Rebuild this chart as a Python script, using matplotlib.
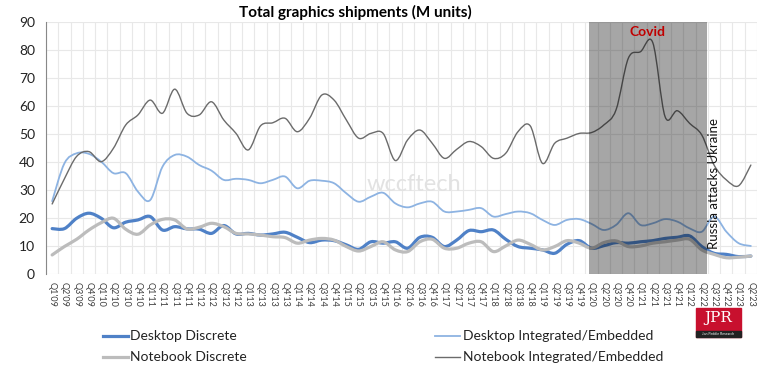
import matplotlib.pyplot as plt
from matplotlib.path import Path
from matplotlib.patches import PathPatch, Rectangle
from matplotlib.lines import Line2D

plt.rcParams['font.family'] = ['Lato', 'DejaVu Sans']

quarters = [f"Q{q}'{y:02d}" for y in range(9, 24) for q in range(1, 5)][:58]

desktop_discrete = [16.2, 16.2, 19.9, 21.7, 19.9, 16.5, 18.5, 19.3, 20.5, 15.7,
                    16.9, 16.1, 16.0, 14.5, 17.3, 14.3, 14.5, 13.9, 14.3, 14.9,
                    13.1, 11.2, 12.1, 11.9, 10.4, 8.8, 11.5, 11.0, 11.5, 9.2,
                    13.1, 13.1, 9.8, 12.1, 15.5, 15.1, 15.7, 12.4, 9.8, 9.2,
                    8.6, 7.4, 10.6, 11.9, 9.2, 10.1, 11.2, 11.0, 11.5, 11.9,
                    12.7, 13.1, 13.6, 9.8, 7.4, 7.0, 6.2, 6.4]
notebook_discrete = [6.8, 9.8, 12.4, 15.7, 18.3, 19.9, 16.0, 14.2, 17.5, 19.5,
                     19.3, 16.1, 16.7, 18.1, 16.9, 14.5, 14.3, 13.9, 13.3, 13.0,
                     11.0, 12.1, 12.7, 12.1, 9.8, 8.2, 9.8, 11.5, 8.6, 8.0,
                     11.5, 12.4, 9.2, 9.2, 11.0, 11.5, 8.0, 10.0, 12.1, 10.6,
                     8.6, 9.8, 11.9, 11.0, 9.2, 11.2, 11.8, 9.8, 10.0, 11.0,
                     11.5, 12.1, 12.4, 8.6, 7.0, 5.8, 6.0, 6.4]
desktop_integrated = [26.0, 39.5, 43.1, 42.9, 40.1, 36.0, 36.0, 29.4, 26.4, 38.3,
                      42.5, 41.9, 38.9, 36.9, 33.6, 34.0, 33.6, 32.4, 33.6, 34.8,
                      30.6, 33.3, 33.3, 32.4, 28.8, 25.8, 27.6, 29.0, 25.2, 23.8,
                      25.2, 25.8, 22.3, 22.3, 22.9, 23.5, 20.5, 21.4, 22.3, 21.7,
                      19.3, 17.5, 19.3, 19.6, 17.9, 15.7, 17.5, 21.7, 17.5, 18.1,
                      19.6, 18.7, 16.3, 15.1, 20.5, 15.1, 11.0, 10.0]
notebook_integrated = [25.0, 34.0, 42.0, 43.7, 40.1, 44.9, 53.2, 56.8, 62.1, 57.4,
                       66.0, 57.4, 56.8, 61.5, 55.0, 50.2, 44.3, 52.9, 54.0, 55.6,
                       50.8, 55.6, 63.9, 62.1, 55.0, 48.5, 50.2, 50.2, 40.5, 47.9,
                       51.4, 46.7, 41.3, 44.5, 47.3, 45.5, 41.3, 43.1, 50.8, 52.9,
                       39.5, 46.7, 48.5, 50.2, 50.5, 53.2, 58.6, 77.0, 79.4, 82.6,
                       56.2, 58.3, 53.8, 49.6, 38.9, 33.6, 31.5, 38.9]

series = [
    ("Desktop Discrete", desktop_discrete, '#4f81c7', 2.3),
    ("Notebook Discrete", notebook_discrete, '#bcbcbc', 2.3),
    ("Desktop Integrated/Embedded", desktop_integrated, '#8db3e2', 1.3),
    ("Notebook Integrated/Embedded", notebook_integrated, '#6b6b6b', 1.0),
]


def smooth_path(y):
    # excel-like smoothed line: bezier through every point
    n = len(y)
    x = list(range(n))
    verts = [(x[0], y[0])]
    codes = [Path.MOVETO]
    for i in range(n - 1):
        a = max(i - 1, 0)
        b = min(i + 2, n - 1)
        c1 = (x[i] + (x[i + 1] - x[a]) / 6, y[i] + (y[i + 1] - y[a]) / 6)
        c2 = (x[i + 1] - (x[b] - x[i]) / 6, y[i + 1] - (y[b] - y[i]) / 6)
        verts += [c1, c2, (x[i + 1], y[i + 1])]
        codes += [Path.CURVE4] * 3
    return Path(verts, codes)


fig = plt.figure(figsize=(7.8, 3.69), dpi=100)
ax = fig.add_axes([0.059, 0.2575, 0.9115, 0.683])

for name, vals, col, lw in series:
    ax.add_patch(PathPatch(smooth_path(vals), facecolor='none', edgecolor=col,
                           lw=lw, capstyle='round', joinstyle='round', zorder=3))

ax.set_xlim(-0.5, len(quarters) - 0.5)
ax.set_ylim(0, 90)
ax.set_yticks(range(0, 91, 10))
ax.set_xticks(range(len(quarters)))
ax.set_xticklabels(quarters, rotation=-90, fontsize=6.5, color='#404040')
ax.tick_params(axis='y', labelsize=10, length=0, pad=8, labelcolor='#222222')
ax.tick_params(axis='x', length=0, pad=6)
ax.set_xticks([i + 0.5 for i in range(-1, len(quarters))], minor=True)
ax.tick_params(axis='x', which='minor', length=0)
ax.grid(axis='x', which='minor', color='#e8e8e8', lw=0.8)
ax.grid(axis='y', color='#e8e8e8', lw=0.8)
ax.set_axisbelow(True)
for s in ['top', 'right', 'bottom']:
    ax.spines[s].set_visible(False)
ax.spines['left'].set_color('#888888')

# covid shade
ax.axvspan(43.8, 53.45, color='black', alpha=0.35, lw=0, zorder=4)
ax.text(48.6, 86.5, "Covid", color='#c00000', fontsize=10, fontweight='bold',
        ha='center', va='center', zorder=5)
ax.text(54.0, 8.8, "Russia attacks Ukraine", rotation=90, fontsize=9.5,
        ha='center', va='bottom', color='#111111', zorder=5)

# watermark
ax.text(29.5, 32, "wccftech", fontsize=17, color='#e2e2e2', ha='center',
        va='center', zorder=2)

fig.text(0.455, 0.965, "Total graphics shipments (M units)", fontsize=11,
         fontweight='bold', ha='center', va='center')

# legend
pos = [(0.132, 0.089), (0.132, 0.032), (0.558, 0.089), (0.558, 0.032)]
for (name, vals, col, lw), (lx, ly) in zip(series, pos):
    fig.add_artist(Line2D([lx, lx + 0.032], [ly, ly], color=col, lw=lw,
                          transform=fig.transFigure))
    fig.text(lx + 0.035, ly, name, fontsize=10, va='center', color='#222222')

# JPR logo
fig.add_artist(Rectangle((0.892, 0.087), 0.058, 0.077, color='#c8102e',
                         transform=fig.transFigure))
fig.add_artist(Rectangle((0.892, 0.087), 0.058, 0.016, color='#222222',
                         transform=fig.transFigure))
fig.text(0.921, 0.138, "JPR", family='DejaVu Serif', fontsize=11, color='white',
         ha='center', va='center')
fig.text(0.921, 0.095, "Jon Peddie Research", fontsize=2.5, color='white',
         ha='center', va='center')

fig.savefig('out.png', dpi=100)
